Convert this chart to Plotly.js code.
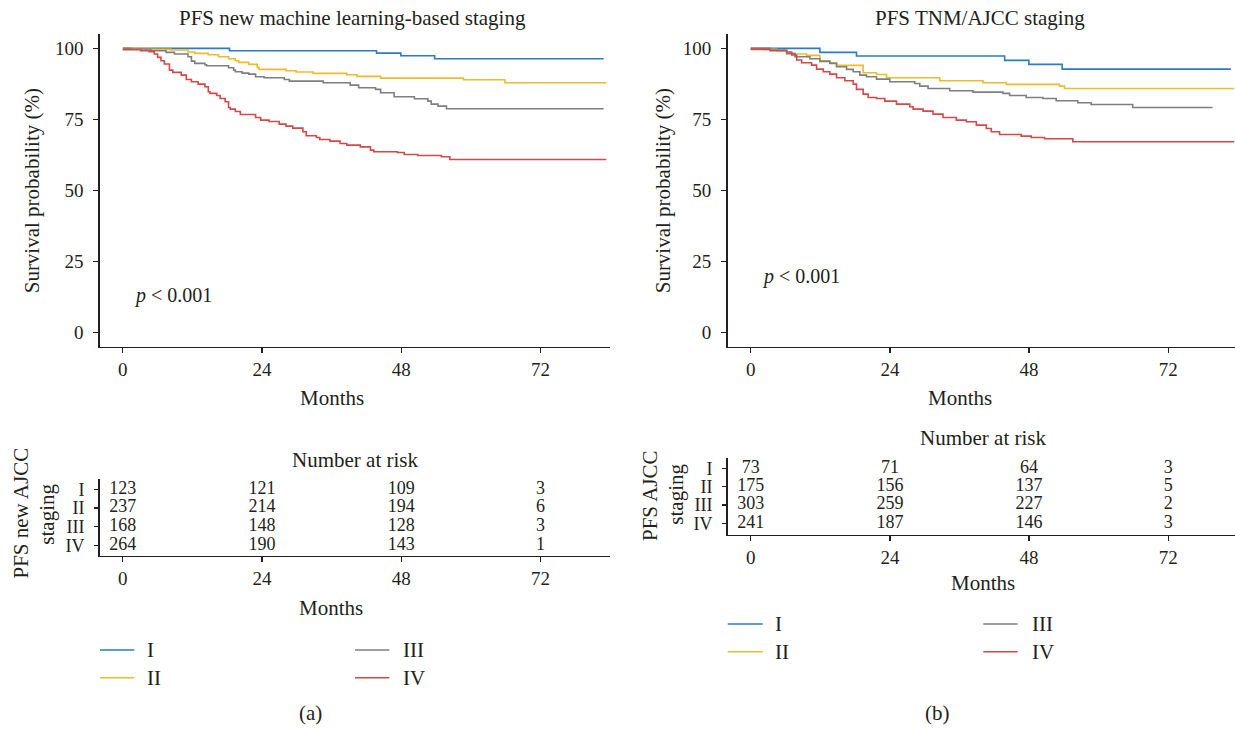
<!DOCTYPE html>
<html>
<head>
<meta charset="utf-8">
<script src="https://cdn.plot.ly/plotly-3.0.1.min.js"></script>
<style>html,body{margin:0;padding:0;background:#fff;}#chart{width:1235px;height:729px;}</style>
</head>
<body>
<div id="chart"></div>
<script>
// ---------- DATA ----------
const stages = ['I', 'II', 'III', 'IV'];
const riskTimes = [0, 24, 48, 72];
const xTicks = [0, 24, 48, 72];
const yTicks = [0, 25, 50, 75, 100];

// Panel (a): PFS new machine learning-based staging
const aI_x = [0, 18.4, 43.75, 47.94, 53.77, 82.89];
const aI_y = [100, 99.18, 98.35, 97.41, 96.36, 96.36];
const aII_x = [0, 4.83, 8.33, 11.24, 12.41, 14.74, 16.49, 18.23, 19.40, 19.98, 21.73, 23.18, 23.48, 28.14, 29.88, 32.80, 38.62, 40.37, 44.45, 58.72, 65.88, 83.37];
const aII_y = [100, 99.65, 99.41, 98.71, 98.24, 97.77, 97.06, 96.36, 95.65, 95.06, 94.36, 93.30, 92.60, 92.13, 91.66, 91.19, 90.72, 90.13, 89.54, 88.95, 87.90, 87.90];
const aIII_x = [0, 1.34, 4.83, 7.46, 8.91, 11.24, 11.83, 12.41, 14.16, 14.45, 18.23, 19.11, 19.40, 20.56, 21.73, 22.89, 24.35, 27.84, 28.72, 34.54, 39.20, 40.66, 43.57, 44.45, 46.78, 50.27, 52.60, 53.18, 54.35, 55.81, 82.89];
const aIII_y = [100, 99.77, 99.18, 98.59, 98.00, 97.06, 95.53, 94.71, 94.24, 93.89, 93.18, 92.36, 91.77, 91.30, 90.95, 90.01, 89.66, 89.07, 88.48, 87.90, 87.07, 86.13, 85.55, 84.37, 82.96, 82.26, 81.43, 80.38, 79.67, 78.73, 78.73];
const aIV_x = [0, 3.09, 4.54, 5.42, 6.00, 6.58, 7.16, 8.04, 8.62, 10.08, 10.95, 11.83, 12.99, 14.16, 14.74, 15.03, 16.19, 16.78, 17.65, 18.23, 18.52, 19.40, 20.27, 22.89, 23.77, 25.22, 26.97, 28.14, 29.30, 31.05, 31.63, 33.38, 33.96, 35.71, 37.46, 38.62, 40.95, 42.70, 43.28, 47.36, 48.52, 50.85, 54.93, 56.39, 83.36];
const aIV_y = [99.53, 99.18, 98.83, 98.00, 96.83, 95.65, 94.48, 92.36, 91.54, 90.60, 89.07, 88.25, 87.43, 86.49, 84.72, 84.14, 83.43, 82.37, 81.20, 79.20, 78.61, 77.79, 76.73, 75.68, 74.73, 74.27, 73.33, 72.62, 71.92, 70.62, 69.21, 68.62, 67.92, 67.33, 66.51, 65.92, 65.33, 64.16, 63.57, 63.34, 62.63, 62.28, 61.81, 60.87, 60.87];

// Panel (b): PFS TNM/AJCC staging
const bI_x = [0, 11.93, 18.24, 43.78, 47.96, 53.70, 82.79];
const bI_y = [100, 98.59, 97.30, 95.77, 94.36, 92.71, 92.71];
const bII_x = [0, 2.18, 4.48, 6.20, 9.64, 11.93, 13.65, 14.80, 19.39, 21.69, 23.41, 32.59, 40.05, 44.06, 53.24, 54.10, 83.36];
const bII_y = [100, 99.65, 99.18, 98.00, 97.53, 95.65, 94.95, 94.01, 91.42, 90.83, 89.66, 88.60, 87.90, 87.31, 86.72, 85.90, 85.90];
const bIII_x = [0, 3.33, 6.20, 7.63, 10.21, 11.93, 13.65, 14.80, 16.52, 17.67, 18.82, 19.97, 21.69, 23.98, 28.28, 29.15, 30.58, 34.31, 38.32, 43.49, 44.64, 47.50, 50.37, 52.67, 56.40, 58.69, 65.86, 79.63];
const bIII_y = [100, 99.41, 98.24, 97.06, 96.36, 95.42, 94.71, 93.54, 92.60, 91.77, 90.60, 90.01, 89.19, 88.25, 87.66, 86.72, 85.90, 85.08, 84.61, 84.14, 83.43, 82.73, 82.37, 81.55, 80.85, 80.26, 79.20, 79.20];
const bIV_x = [0, 3.33, 6.20, 7.06, 7.92, 8.78, 10.50, 11.36, 12.51, 13.65, 14.80, 16.24, 17.67, 18.24, 19.39, 20.25, 21.69, 23.12, 25.13, 27.42, 28.00, 29.72, 31.44, 33.16, 35.46, 37.18, 38.90, 40.62, 41.48, 42.91, 46.64, 48.36, 50.66, 55.54, 83.36];
const bIV_y = [99.65, 99.18, 98.71, 97.65, 95.89, 94.95, 94.12, 92.71, 91.77, 90.95, 89.66, 88.60, 87.43, 85.55, 83.90, 82.73, 82.37, 81.43, 80.38, 79.44, 78.61, 77.91, 76.85, 75.68, 74.74, 74.15, 72.97, 71.80, 70.62, 69.68, 69.10, 68.62, 68.15, 67.10, 67.10];

// Number at risk
const riskA_I = [123, 121, 109, 3];
const riskA_II = [237, 214, 194, 6];
const riskA_III = [168, 148, 128, 3];
const riskA_IV = [264, 190, 143, 1];
const riskB_I = [73, 71, 64, 3];
const riskB_II = [175, 156, 137, 5];
const riskB_III = [303, 259, 227, 2];
const riskB_IV = [241, 187, 146, 3];

// ---------- STYLE ----------
const W = 1235, H = 729;
const FONT = 'Liberation Serif, Times New Roman, serif';
const INK = '#231f20';
const COLORS = ['#2a7bc8', '#f0bb2a', '#7f7f7f', '#d5484a'];
const FS = 19;   // tick digits
const RFS = 18;  // risk-table rows
const WFS = 21;  // words (titles, labels, legend)
function px(x) { return x / W; }
function py(y) { return 1 - y / H; }

const curvesA = [[aI_x, aI_y], [aII_x, aII_y], [aIII_x, aIII_y], [aIV_x, aIV_y]];
const curvesB = [[bI_x, bI_y], [bII_x, bII_y], [bIII_x, bIII_y], [bIV_x, bIV_y]];
const risksA = [riskA_I, riskA_II, riskA_III, riskA_IV];
const risksB = [riskB_I, riskB_II, riskB_III, riskB_IV];

const traces = [];
curvesA.forEach((c, i) => traces.push({
  x: c[0], y: c[1], xaxis: 'x', yaxis: 'y', type: 'scatter', mode: 'lines',
  line: { shape: 'hv', color: COLORS[i], width: 1.6 }, name: stages[i], showlegend: false, hoverinfo: 'skip'
}));
curvesB.forEach((c, i) => traces.push({
  x: c[0], y: c[1], xaxis: 'x2', yaxis: 'y2', type: 'scatter', mode: 'lines',
  line: { shape: 'hv', color: COLORS[i], width: 1.6 }, name: stages[i], showlegend: false, hoverinfo: 'skip'
}));
risksA.forEach((r, i) => traces.push({
  x: riskTimes, y: riskTimes.map(() => stages[i]), text: r.map(String), xaxis: 'x3', yaxis: 'y3',
  type: 'scatter', mode: 'text', textposition: 'middle center', textfont: { family: FONT, size: RFS, color: INK },
  showlegend: false, hoverinfo: 'skip', cliponaxis: false
}));
risksB.forEach((r, i) => traces.push({
  x: riskTimes, y: riskTimes.map(() => stages[i]), text: r.map(String), xaxis: 'x4', yaxis: 'y4',
  type: 'scatter', mode: 'text', textposition: 'middle center', textfont: { family: FONT, size: RFS, color: INK },
  showlegend: false, hoverinfo: 'skip', cliponaxis: false
}));

const axBase = {
  showline: true, linecolor: INK, linewidth: 1.4, ticks: 'outside', ticklen: 5, tickwidth: 1.2, tickcolor: INK,
  showgrid: false, zeroline: false, tickfont: { family: FONT, size: FS, color: INK }, fixedrange: true
};
const catOrder = ['IV', 'III', 'II', 'I'];

const layout = {
  width: W, height: H, margin: { l: 0, r: 0, t: 0, b: 0 },
  paper_bgcolor: '#fff', plot_bgcolor: 'rgba(0,0,0,0)', showlegend: false,
  font: { family: FONT, size: FS, color: INK },
  xaxis: Object.assign({}, axBase, { domain: [px(99.6), px(610)], range: [-4, 84], tickmode: 'array', tickvals: xTicks, anchor: 'y' }),
  yaxis: Object.assign({}, axBase, { domain: [py(346.5), py(34.2)], range: [-5, 105], tickmode: 'array', tickvals: yTicks, anchor: 'x', ticklabelstandoff: 6 }),
  xaxis2: Object.assign({}, axBase, { domain: [px(727.5), 1], range: [-4, 83.5], tickmode: 'array', tickvals: xTicks, anchor: 'y2' }),
  yaxis2: Object.assign({}, axBase, { domain: [py(346.5), py(34.2)], range: [-5, 105], tickmode: 'array', tickvals: yTicks, anchor: 'x2', ticklabelstandoff: 6 }),
  xaxis3: Object.assign({}, axBase, { domain: [px(99.6), px(610)], range: [-4, 84], tickmode: 'array', tickvals: xTicks, anchor: 'y3' }),
  yaxis3: Object.assign({}, axBase, { domain: [py(556), py(479.3)], type: 'category', categoryorder: 'array', categoryarray: catOrder, tickmode: 'array', tickvals: stages, ticktext: stages, range: [-0.573, 3.536], anchor: 'x3', ticklen: 4, ticklabelstandoff: 6, tickfont: { family: FONT, size: RFS, color: INK } }),
  xaxis4: Object.assign({}, axBase, { domain: [px(727.5), 1], range: [-4, 83.5], tickmode: 'array', tickvals: xTicks, anchor: 'y4' }),
  yaxis4: Object.assign({}, axBase, { domain: [py(535), py(458.3)], type: 'category', categoryorder: 'array', categoryarray: catOrder, tickmode: 'array', tickvals: stages, ticktext: stages, range: [-0.64, 3.545], anchor: 'x4', ticklen: 4, ticklabelstandoff: 6, tickfont: { family: FONT, size: RFS, color: INK } }),
  annotations: [],
  shapes: []
};

function ann(text, x, y, opts) {
  layout.annotations.push(Object.assign({
    text: text, x: px(x), y: py(y), xref: 'paper', yref: 'paper', showarrow: false,
    xanchor: 'center', yanchor: 'middle', font: { family: FONT, size: WFS, color: INK }
  }, opts || {}));
}
// titles
ann('PFS new machine learning-based staging', 352.5, 18.3);
ann('PFS TNM/AJCC staging', 980, 18.3);
// y titles
ann('Survival probability (%)', 32.3, 191, { textangle: -90 });
ann('Survival probability (%)', 663.3, 191, { textangle: -90 });
// x titles
ann('Months', 331.5, 398.3);
ann('Months', 960, 398.3);
ann('Months', 331.3, 608.3);
ann('Months', 982.5, 583.3);
// risk titles
ann('Number at risk', 355, 460);
ann('Number at risk', 983, 438.3);
ann('PFS new AJCC', 20, 513.5, { textangle: -90 });
ann('staging', 46.7, 514, { textangle: -90 });
ann('PFS AJCC', 650, 496, { textangle: -90 });
ann('staging', 676, 494.7, { textangle: -90 });
// p values
layout.annotations.push({ text: '<i>p</i> < 0.001', x: 1.5, y: 13, xref: 'x', yref: 'y', showarrow: false, xanchor: 'left', yanchor: 'middle', font: { family: FONT, size: 20, color: INK } });
layout.annotations.push({ text: '<i>p</i> < 0.001', x: 1.6, y: 19.5, xref: 'x2', yref: 'y2', showarrow: false, xanchor: 'left', yanchor: 'middle', font: { family: FONT, size: 20, color: INK } });
// panel labels
ann('(a)', 310, 713.3);
ann('(b)', 937.7, 713.3);

// legends (keys)
function legendKey(x0, x1, y, color, label, lx) {
  layout.shapes.push({ type: 'line', xref: 'paper', yref: 'paper', x0: px(x0), x1: px(x1), y0: py(y), y1: py(y), line: { color: color, width: 1.6 } });
  ann(label, lx, y, { xanchor: 'left' });
}
legendKey(100, 134.3, 650, COLORS[0], stages[0], 145);
legendKey(100, 134.3, 677.7, COLORS[1], stages[1], 145);
legendKey(355, 389.3, 650, COLORS[2], stages[2], 401);
legendKey(355, 389.3, 677.7, COLORS[3], stages[3], 401);
legendKey(727.7, 762.7, 624, COLORS[0], stages[0], 773.5);
legendKey(727.7, 762.7, 651.7, COLORS[1], stages[1], 773.5);
legendKey(983.3, 1017.7, 624, COLORS[2], stages[2], 1029.5);
legendKey(983.3, 1017.7, 651.7, COLORS[3], stages[3], 1029.5);

Plotly.newPlot('chart', traces, layout, { staticPlot: true, displayModeBar: false });
</script>
</body>
</html>
